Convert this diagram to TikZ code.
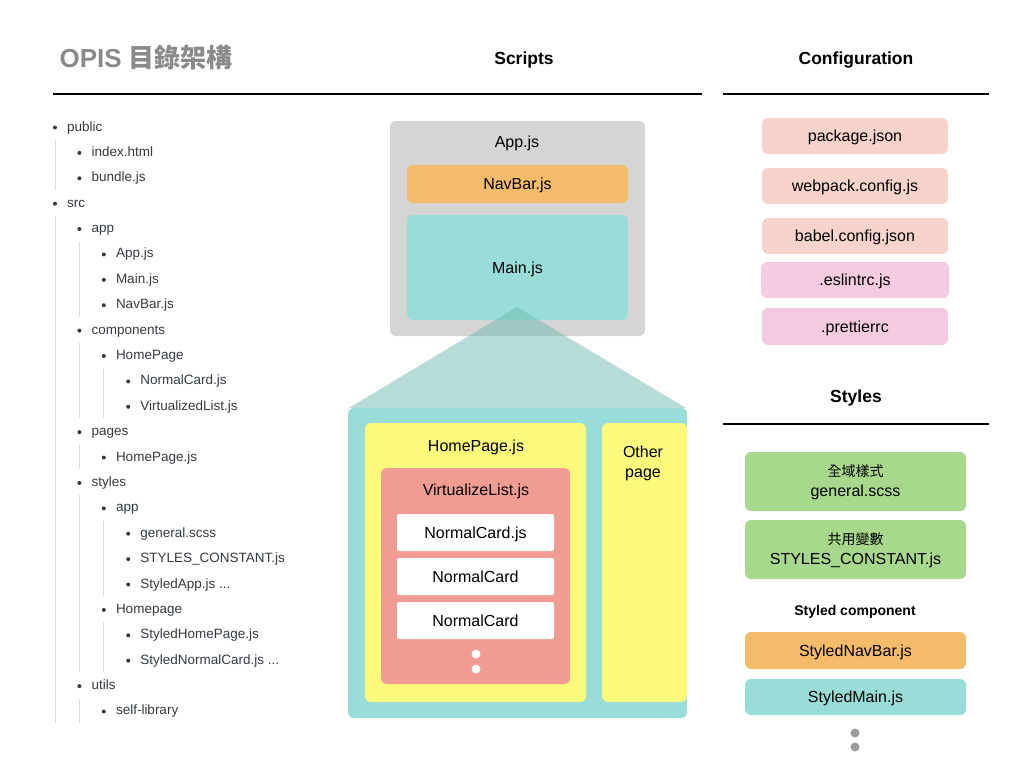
\documentclass[tikz,border=0pt]{standalone}
\usepackage{fontspec}
\setmainfont{Liberation Sans}
\newfontfamily\cjk{Noto Sans CJK TC}
\definecolor{appgray}{HTML}{D6D5D6}
\definecolor{navorange}{HTML}{F4BB6A}
\definecolor{mainteal}{HTML}{99DDD8}
\definecolor{zoomteal}{HTML}{6FBAB0}
\definecolor{pageyellow}{HTML}{FCFA7C}
\definecolor{listsalmon}{HTML}{F19C92}
\definecolor{cfgpeach}{HTML}{F7D3CC}
\definecolor{cfgpink}{HTML}{F6CBE1}
\definecolor{stylegreen}{HTML}{A8D88B}
\definecolor{dotgray}{HTML}{9B9B9B}
\definecolor{guidegray}{HTML}{D8DCE0}
\definecolor{treetext}{HTML}{343A40}
\definecolor{titlegray}{HTML}{8A8A8A}
\newcommand{\moredots}{...}
\begin{document}
\begin{tikzpicture}[x=1pt,y=-1pt]

		\tikzset{
		  box/.style={
			rounded corners=6pt,
			inner sep=0pt,
			align=center,
			font=\fontsize{16}{20}\selectfont,
		  },
		  boxtext/.style={
			text height=13pt,
			text depth=2pt,
		  },
		  heading/.style={
			font=\bfseries\fontsize{17.5}{20}\selectfont,
			text height=14pt,
			text depth=2pt,
		  },
		  treeitem/.style={
			anchor=west,
			inner sep=0pt,
			text=treetext,
			text height=10pt,
			text depth=2pt,
			font=\fontsize{13.5}{16}\selectfont,
		  },
		  guide/.style={
			guidegray,
			line width=1pt,
		  },
		}
		\useasboundingbox (0,0) rectangle (1024,768);
		\node[anchor=west,text=titlegray,font=\bfseries\fontsize{26}{30}\selectfont] (title) at (56,58) {OPIS {\cjk 目錄架構}};
		\node[heading] (scripts) at (524,58) {Scripts};
		\node[heading] (config) at (856,58) {Configuration};
		\node[heading] (styles) at (856,396) {Styles};
		\draw[line width=1.2pt] (53,94)--(702,94);
		\draw[line width=1.2pt] (723,94)--(989,94);
		\draw[line width=1.2pt] (723,424)--(989,424);

		% directory tree
		\foreach \lvl/\row/\nm/\txt in {0/0/public/public, 1/1/index/index.html, 1/2/bundle/bundle.js,
			0/3/src/src, 1/4/app/app, 2/5/appjs/App.js, 2/6/mainjs/Main.js, 2/7/navjs/NavBar.js,
			1/8/comp/components, 2/9/home/HomePage, 3/10/cardjs/NormalCard.js, 3/11/listjs/VirtualizedList.js,
			1/12/pages/pages, 2/13/homejs/HomePage.js, 1/14/stl/styles, 2/15/stlapp/app,
			3/16/gen/general.scss, 3/17/const/STYLES\_CONSTANT.js, 3/18/stlappjs/StyledApp.js \moredots,
			2/19/stlhome/Homepage, 3/20/stlhomejs/StyledHomePage.js, 3/21/stlcard/StyledNormalCard.js \moredots,
			1/22/utils/utils, 2/23/lib/self-library}
		{
			\node[treeitem] (\nm) at ({67+24.4*\lvl},{127+25.39*\row}) {\txt};
			\fill[treetext] ([xshift=-12pt,yshift=-0.5pt]\nm.west) circle (2pt);
		}
		\foreach \lvl/\from/\to in {0/0/2, 0/3/23, 1/4/7, 1/8/11, 1/12/13, 1/14/21, 1/22/23, 2/9/11, 2/15/18, 2/19/21}
			\draw[guide] ({55+24.4*\lvl},{127+25.39*\from+13}) -- ({55+24.4*\lvl},{127+25.39*\to+12});

		% scripts
		\node[box,fill=appgray,minimum width=255,minimum height=215] (appbox) at (517.5,228.5) {};
		\node[box,boxtext] (applbl) at (517,142) {App.js};
		\node[box,boxtext,fill=navorange,minimum width=221,minimum height=38] (navbar) at (517.5,184) {NavBar.js};
		\node[box,boxtext,fill=mainteal,minimum width=221,minimum height=105] (main) at (517.5,267.5) {Main.js};
		\fill[zoomteal,opacity=0.5] (517,307)--(686,408)--(349,408)--cycle;
		\node[box,fill=mainteal,minimum width=339,minimum height=310] (pagesbox) at (517.5,563) {};
		\node[box,fill=pageyellow,minimum width=221,minimum height=279] (homepage) at (475.5,562.5) {};
		\node[box,boxtext] (homelbl) at (476,446) {HomePage.js};
		\node[box,fill=listsalmon,minimum width=189,minimum height=216] (vlist) at (475.5,576) {};
		\node[box,boxtext] (vlistlbl) at (476,490) {VirtualizeList.js};
		\node[box,boxtext,fill=white,rounded corners=2pt,minimum width=157,minimum height=37] (card1) at (475.5,532.5) {NormalCard.js};
		\node[box,boxtext,fill=white,rounded corners=2pt,minimum width=157,minimum height=37] (card2) at (475.5,576.5) {NormalCard};
		\node[box,boxtext,fill=white,rounded corners=2pt,minimum width=157,minimum height=37] (card3) at (475.5,620.5) {NormalCard};
		\fill[white] (476,654) circle (4.5);
		\fill[white] (476,669) circle (4.5);
		\node[box,fill=pageyellow,minimum width=85,minimum height=279] (other) at (644.5,562.5) {};
		\node[box] (otherlbl) at (643,463) {Other\\page};

		% configuration
		\node[box,boxtext,fill=cfgpeach,minimum width=186,minimum height=36] (pkg) at (855,136) {package.json};
		\node[box,boxtext,fill=cfgpeach,minimum width=186,minimum height=36] (webpack) at (855,186) {webpack.config.js};
		\node[box,boxtext,fill=cfgpeach,minimum width=186,minimum height=36] (babel) at (855,236) {babel.config.json};
		\node[box,boxtext,fill=cfgpink,minimum width=188,minimum height=36] (eslint) at (855,280) {.eslintrc.js};
		\node[box,boxtext,fill=cfgpink,minimum width=186,minimum height=37] (prettier) at (855,326.5) {.prettierrc};

		% styles
		\node[box,fill=stylegreen,minimum width=221,minimum height=59] (general) at (855.5,481.5) {};
		\node[box] (generallbl) at (855.5,482.5) {{\cjk\fontsize{14}{17}\selectfont 全域樣式}\\general.scss};
		\node[box,fill=stylegreen,minimum width=221,minimum height=59] (constant) at (855.5,549.5) {};
		\node[box] (constantlbl) at (855.5,550.5) {{\cjk\fontsize{14}{17}\selectfont 共用變數}\\STYLES\_CONSTANT.js};
		\node[font=\bfseries\fontsize{14}{17}\selectfont,text height=11pt,text depth=2pt] (styledcomp) at (855,611) {Styled component};
		\node[box,boxtext,fill=navorange,minimum width=221,minimum height=37] (stylednav) at (855.5,650.5) {StyledNavBar.js};
		\node[box,boxtext,fill=mainteal,minimum width=221,minimum height=36] (styledmain) at (855.5,697) {StyledMain.js};
		\fill[dotgray] (855,733) circle (4.5);
		\fill[dotgray] (855,747) circle (4.5);

\end{tikzpicture}
\end{document}
